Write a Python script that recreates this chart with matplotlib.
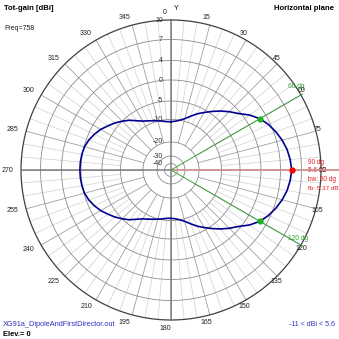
import numpy as np
import matplotlib.pyplot as plt

plt.rcParams['font.family'] = ['Liberation Sans', 'DejaVu Sans']

# horizontal-plane total gain, dBi, every 5 degrees (compass, clockwise from Y)
angles = np.arange(0, 360, 5)
gain_dbi = [-11.0, -10.7, -10.0, -9.3, -8.2, -6.9, -5.7, -4.4, -3.1, -1.8,
            -0.5, 1.2, 2.6, 3.6, 4.3, 4.8, 5.2, 5.45, 5.6, 5.45,
            5.2, 4.8, 4.3, 3.6, 2.6, 1.2, -0.5, -1.8, -3.1, -4.4,
            -5.7, -6.9, -8.2, -9.3, -10.0, -10.7, -11.0, -10.9, -10.4, -9.9,
            -9.5, -9.0, -8.4, -7.4, -6.1, -5.0, -4.0, -3.1, -2.1, -1.3,
            -0.6, -0.1, 0.1, 0.2, 0.23, 0.2, 0.1, -0.1, -0.6, -1.3,
            -2.1, -3.1, -4.0, -5.0, -6.1, -7.4, -8.4, -9.0, -9.5, -9.9,
            -10.4, -10.9]

ring_db = [10, 7, 4, 0, -5, -10, -20, -30, -40]
ring_frac = [1.0, 0.87, 0.73, 0.6, 0.46, 0.337, 0.187, 0.093, 0.043]
angle_labels = list(range(0, 360, 15))

max_dir = 90
max_gain = 5.6
bw_dirs = [60, 120]
fb_ratio = 5.37
freq = 758
min_gain = -11

cx, cy, R = 171, 170, 150


def radius(db):
    return np.interp(db, ring_db[::-1], ring_frac[::-1]) * R


def xy(ang, r):
    a = np.radians(ang)
    return cx + r * np.sin(a), cy - r * np.cos(a)


fig = plt.figure(figsize=(3.39, 3.39), dpi=100)
ax = fig.add_axes([0, 0, 1, 1])
ax.set_xlim(0, 339)
ax.set_ylim(339, 0)
ax.set_aspect('equal')
ax.axis('off')

t = np.linspace(0, 360, 721)

# spokes: light every 5 deg, darker every 15 deg
for a in range(0, 360, 5):
    if a % 15 == 0:
        x0, y0 = xy(a, radius(-20))
        col, lw = '#a0a0a0', 0.6
    else:
        x0, y0 = xy(a, radius(-10))
        col, lw = '#d0d0d0', 0.5
    x1, y1 = xy(a, R)
    ax.plot([x0, x1], [y0, y1], color=col, lw=lw, zorder=1)

# rings
for db in ring_db:
    x, y = xy(t, radius(db))
    if db == 10:
        ax.plot(x, y, color='#404040', lw=0.9, zorder=2)
    else:
        ax.plot(x, y, color='#8c8c8c', lw=0.6, zorder=2)

# main axes
ax.plot([cx, cx], [cy - R, cy + R], color='#808080', lw=1.1, zorder=3)
ax.plot([cx - R, cx], [cy, cy], color='#808080', lw=1.1, zorder=3)

# ring labels
for db in ring_db:
    ax.text(cx - 8, cy - radius(db), str(db), ha='right', va='center',
            fontsize=5, color='#303030', zorder=4)

# angle labels
for a in angle_labels:
    x, y = xy(a, 158)
    ax.text(x - 6, y, str(a), ha='center', va='center', fontsize=5,
            color='#202020', zorder=4)
ax.text(cx + 5, 9, 'Y', ha='center', va='center', fontsize=5, color='black')

# max direction and -3 dB beamwidth
ax.plot([cx, 339], [cy, cy], color='#d09090', lw=1.3, zorder=5)
for a in bw_dirs:
    x1, y1 = xy(a, R + 2)
    ax.plot([cx, x1], [cy, y1], color='#40a040', lw=0.7, zorder=5)

ang_c = np.append(angles, 360)
g_c = np.append(gain_dbi, gain_dbi[0])
x, y = xy(ang_c, radius(g_c))
ax.plot(x, y, color='#000090', lw=1.2, zorder=6)

gain_at = dict(zip(angles, gain_dbi))
for a in bw_dirs:
    x, y = xy(a, radius(gain_at[a]))
    ax.plot(x, y, 'o', color='#20b020', ms=3.5, zorder=7)
x, y = xy(max_dir, radius(max_gain))
ax.plot(x, y, 'o', color='#ff0000', ms=3.5, zorder=7)

# annotations
red = '#e02020'
ax.text(308, 163, f'{max_dir} dg', fontsize=4.7, color=red, va='center')
ax.text(308, 171, f'{max_gain} dB', fontsize=4.7, color=red, va='center')
ax.text(308, 179.5, f'bw: {bw_dirs[1] - bw_dirs[0]} dg', fontsize=4.7, color=red, va='center')
ax.text(308, 188, f'fb: {fb_ratio} dB', fontsize=4.6, color=red, va='center')
ax.text(288, 86, f'{bw_dirs[0]} dg', fontsize=4.8, color='#30a030', va='center')
ax.text(288, 238, f'{bw_dirs[1]} dg', fontsize=4.8, color='#30a030', va='center')

ax.text(4, 8, 'Tot-gain [dBi]', fontsize=5.6, fontweight='bold', va='center')
ax.text(4, 28, f'Freq={freq}', fontsize=5, va='center', color='#202020')
ax.text(334, 8, 'Horizontal plane', fontsize=5.6, fontweight='bold', va='center', ha='right')
ax.text(3, 324, 'XG91a_DipoleAndFirstDirector.out', fontsize=5.3, color='#3030c0', va='center')
ax.text(3, 334, 'Elev.= 0', fontsize=5.4, fontweight='bold', va='center')
ax.text(335, 324, f'{min_gain} < dBi < {max_gain}', fontsize=5, color='#3030c0',
        va='center', ha='right')

fig.savefig('out.png', dpi=100)
